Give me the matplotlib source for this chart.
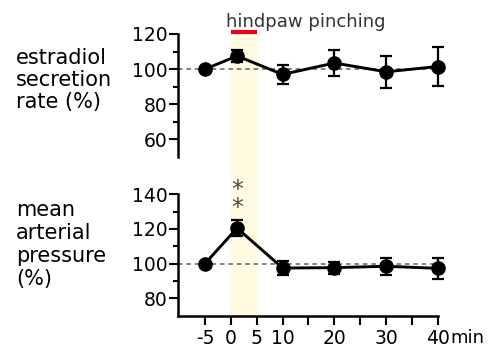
import matplotlib
matplotlib.use('Agg')
import matplotlib.pyplot as plt
from matplotlib.patches import Rectangle
from matplotlib.transforms import blended_transform_factory

# time points (min)
minutes = [-5, 1.2, 10, 20, 30, 40]

# estradiol secretion rate (%)
estradiol = [100, 107.5, 97, 103.5, 98.5, 101.5]
estradiol_err = [0, 3.5, 5.5, 7.5, 9, 11]

# mean arterial pressure (%)
pressure = [100, 120.5, 97.5, 97.7, 98.5, 97.3]
pressure_err = [0, 4.5, 4, 3.5, 5, 6]

xticks = [-5, 0, 5, 10, 15, 20, 25, 30, 35, 40]
xticklabels = ['-5', '0', '5', '10', '', '20', '', '30', '', '40']

plt.rcParams['font.family'] = 'DejaVu Sans'

fig = plt.figure(figsize=(4.91, 3.49), dpi=100)
ax1 = fig.add_axes([0.3625, 0.550, 0.5295, 0.3526])
ax2 = fig.add_axes([0.3625, 0.0954, 0.5295, 0.3479])

line_kw = dict(color='black', lw=2.1, marker='o', markersize=9.5,
               elinewidth=1.6, capsize=4.5, capthick=1.6, clip_on=False, zorder=5)

for ax in (ax1, ax2):
    ax.set_facecolor('none')
    ax.set_xlim(-10.2, 40)
    ax.axhline(100, color='#606060', lw=1.1, ls=(0, (3, 2.5)), zorder=2)
    for side in ('top', 'right'):
        ax.spines[side].set_visible(False)
    ax.spines['left'].set_linewidth(1.8)
    ax.spines['bottom'].set_linewidth(1.8)
    ax.tick_params(axis='y', which='major', length=6.5, width=1.5, labelsize=13.5, pad=1)
    ax.tick_params(axis='y', which='minor', length=3.5, width=1.5)

# top panel
ax1.errorbar(minutes, estradiol, yerr=estradiol_err, **line_kw)
ax1.set_ylim(50, 120)
ax1.set_yticks([60, 80, 100, 120])
ax1.set_yticks([70, 90, 110], minor=True)
ax1.spines['bottom'].set_visible(False)
ax1.set_xticks([])
ax1.plot([0, 5], [121, 121], color='#e8001c', lw=3, solid_capstyle='butt', clip_on=False)

# bottom panel
ax2.errorbar(minutes, pressure, yerr=pressure_err, **line_kw)
ax2.set_ylim(70, 140)
ax2.set_yticks([80, 100, 120, 140])
ax2.set_yticks([90, 110, 130], minor=True)
ax2.set_xticks(xticks)
ax2.set_xticklabels(xticklabels)
ax2.tick_params(axis='x', length=6.5, width=1.5, labelsize=13.5, pad=3)
ax2.text(1.2, 137.2, '*\n*', ha='center', va='center', fontsize=17, color='#4a4a4a',
         linespacing=0.7)
ax2.annotate('min', xy=(42.3, 0), xycoords=('data', 'axes fraction'),
             xytext=(0, -9.5), textcoords='offset points', ha='left', va='top', fontsize=13)

# shaded pinching period spanning both panels
p1 = ax1.get_position()
p2 = ax2.get_position()
trans = blended_transform_factory(ax2.transData, fig.transFigure)
fig.patches.append(Rectangle((0, p2.y0), 5, p1.y1 - p2.y0, transform=trans,
                             facecolor='#fffae0', edgecolor='none', zorder=-1))

fig.text(0.623, 0.938, 'hindpaw pinching', ha='center', va='center', fontsize=13, color='#333333')
fig.text(16 / 491, 0.771, 'estradiol\nsecretion\nrate (%)', ha='left', va='center',
         fontsize=15, linespacing=1.1)
fig.text(16 / 491, 0.2994, 'mean\narterial\npressure\n(%)', ha='left', va='center',
         fontsize=15, linespacing=1.2)

fig.savefig('out.png', dpi=100)
